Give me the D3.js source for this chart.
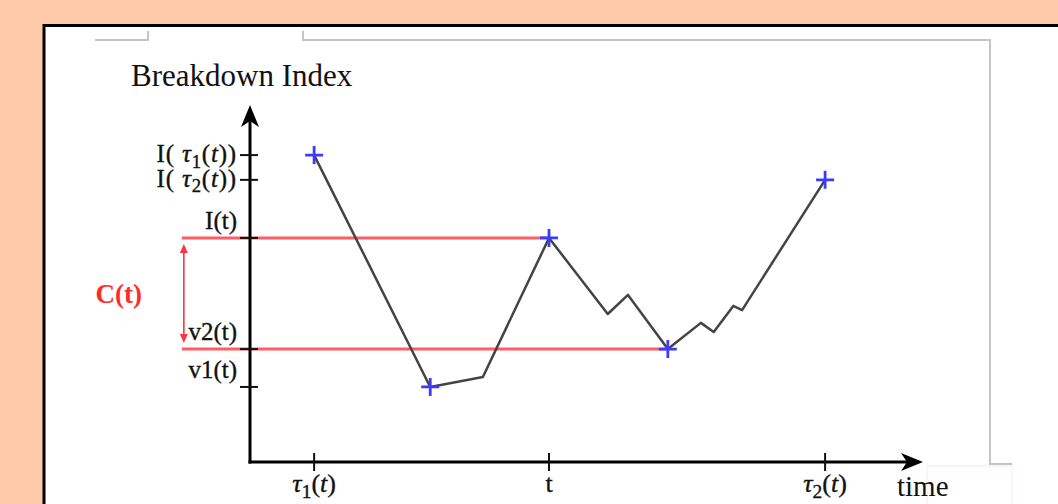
<!DOCTYPE html>
<html><head><meta charset="utf-8">
<script src="https://cdn.jsdelivr.net/npm/d3@7"></script>
<style>html,body{margin:0;padding:0;background:#fdcba8;overflow:hidden}svg{display:block}</style>
</head><body>
<script>
// ---- data ----
const timeValues  = [9.5, 26.7, 34.5, 44.3, 53.0, 56.0, 61.9, 66.8, 68.7, 71.6, 72.9, 85.2];
const indexValues = [86.7, 21.2, 24.0, 63.3, 41.8, 47.2, 31.9, 39.3, 36.7, 44.1, 42.9, 79.7];
const markedPoints = [0, 1, 3, 6, 11];
const yTickValues = [86.7, 79.7, 63.3, 31.9, 21.2];
const yTickLabels = [
  [["I( "],["τ","i"],["1","s"],["("],["t","i"],["))"]],
  [["I( "],["τ","i"],["2","s"],["("],["t","i"],["))"]],
  [["I(t)"]],
  [["v2(t)"]],
  [["v1(t)"]]
];
const xTickValues = [9.5, 44.3, 85.2];
const xTickLabels = [
  [["τ","i"],["1","s"],["("],["t","i"],[")"]],
  [["t"]],
  [["τ","i"],["2","s"],["("],["t","i"],[")"]]
];
const thresholdValues = [63.3, 31.9]; // I(t), v2(t)
const thresholdEnds = [44.3, 61.9];
const yTitle = "Breakdown Index";
const xTitle = "time";
const bandLabel = "C(t)";

// ---- drawing ----
const W = 1058, H = 504;
const svg = d3.select("body").append("svg").attr("width", W).attr("height", H);
const x = d3.scaleLinear().domain([0, 100]).range([250, 925]);
const y = d3.scaleLinear().domain([0, 100]).range([462, 108]);
const serif = "'Liberation Serif','DejaVu Serif',serif";

// page frame
svg.append("rect").attr("x", 44).attr("y", 25.5).attr("width", W).attr("height", H)
  .attr("fill", "#fff").attr("stroke", "#000").attr("stroke-width", 3);

// grey image frame
const grey = svg.append("g").attr("fill", "none").attr("stroke", "#c4c4c4").attr("stroke-width", 2);
grey.append("path").attr("d", "M95,40H148V31");
grey.append("path").attr("d", "M303,31V40H990V464H1012");
svg.append("rect").attr("x", 927).attr("y", 466).attr("width", 85).attr("height", 45)
  .attr("fill", "#fff").attr("stroke", "#fde8e8").attr("stroke-width", 1);

// titles
svg.append("text").attr("x", 131).attr("y", 86).attr("font-family", serif).attr("font-size", 31)
  .attr("fill", "#111").text(yTitle);
svg.append("text").attr("x", 897).attr("y", 496).attr("font-family", serif).attr("font-size", 29)
  .attr("fill", "#111").text(xTitle);

// threshold red lines
svg.append("g").selectAll("line").data(thresholdValues).join("line")
  .attr("x1", x(-10.1)).attr("x2", (d, i) => x(thresholdEnds[i]))
  .attr("y1", d => y(d)).attr("y2", d => y(d))
  .attr("stroke", "#ff5c66").attr("stroke-width", 3);

// C(t) double arrow
const ax = x(-9.8);
const aTop = y(thresholdValues[0]) + 6, aBot = y(thresholdValues[1]) - 6;
svg.append("line").attr("x1", ax).attr("x2", ax).attr("y1", aTop + 4).attr("y2", aBot - 4)
  .attr("stroke", "#ff3344").attr("stroke-width", 1.6);
svg.append("path").attr("d", `M${ax},${aTop}l-4,9h8z M${ax},${aBot}l-4,-9h8z`).attr("fill", "#ff3344");
svg.append("text").attr("x", 142).attr("y", (y(thresholdValues[0]) + y(thresholdValues[1])) / 2)
  .attr("dy", "0.35em").attr("text-anchor", "end").attr("font-family", serif)
  .attr("font-size", 27).attr("font-weight", "bold").attr("fill", "#ff2a2a").text(bandLabel);

// axes
const axisG = svg.append("g").attr("stroke", "#000").attr("fill", "none");
axisG.append("line").attr("x1", x(0)).attr("x2", x(0)).attr("y1", y(0) + 1.5).attr("y2", y(98))
  .attr("stroke-width", 3);
axisG.append("line").attr("x1", x(0) - 1.5).attr("x2", x(99)).attr("y1", y(0)).attr("y2", y(0))
  .attr("stroke-width", 3);
// arrow heads
svg.append("path").attr("d", `M${x(0)},${y(100) - 3}l-9,22l9,-6l9,6z`).attr("fill", "#000");
svg.append("path").attr("d", `M${x(100) - 2},${y(0)}l-22,-9l6,9l-6,9z`).attr("fill", "#000");

function richText(sel, parts) {
  let prevSub = false;
  parts.forEach(p => {
    const ts = sel.append("tspan").text(p[0]);
    if (p[1] === "i") ts.attr("font-style", "italic");
    if (p[1] === "s") { ts.attr("font-size", "0.75em").attr("dy", "0.3em"); prevSub = true; }
    else if (prevSub) { ts.attr("dy", "-0.23em"); prevSub = false; }
  });
}

// y ticks
const yt = svg.append("g").selectAll("g").data(yTickValues).join("g")
  .attr("transform", d => `translate(0,${y(d)})`);
yt.append("line").attr("x1", x(0) - 10).attr("x2", x(0) + 8).attr("stroke", "#111").attr("stroke-width", 2);
yt.append("text").attr("x", x(0) - 13).attr("text-anchor", "end")
  .attr("font-family", serif).attr("font-size", 25).attr("fill", "#111")
  .attr("stroke", "#111").attr("stroke-width", 0.35)
  .attr("letter-spacing", (d, i) => i < 2 ? 0.8 : 0)
  .attr("y", (d, i) => i < 2 ? 7 : -9)
  .each(function (d, i) { richText(d3.select(this), yTickLabels[i]); });

// x ticks
const xt = svg.append("g").selectAll("g").data(xTickValues).join("g")
  .attr("transform", d => `translate(${x(d)},0)`);
xt.append("line").attr("y1", y(0) - 9).attr("y2", y(0) + 9).attr("stroke", "#111").attr("stroke-width", 2);
xt.append("text").attr("y", y(0) + 30).attr("text-anchor", "middle")
  .attr("font-family", serif).attr("font-size", 26).attr("fill", "#111")
  .attr("stroke", "#111").attr("stroke-width", 0.35)
  .each(function (d, i) { richText(d3.select(this), xTickLabels[i]); });

// series line
const pts = timeValues.map((t, i) => [t, indexValues[i]]);
svg.append("path").datum(pts)
  .attr("d", d3.line().x(d => x(d[0])).y(d => y(d[1])))
  .attr("fill", "none").attr("stroke", "#444").attr("stroke-width", 2.5).attr("stroke-linejoin", "round");

// markers
svg.append("g").selectAll("path").data(markedPoints).join("path")
  .attr("d", i => `M${x(timeValues[i]) - 9},${y(indexValues[i])}h18M${x(timeValues[i])},${y(indexValues[i]) - 9}v18`)
  .attr("stroke", "#3b3bff").attr("stroke-width", 2.8);
</script>
</body></html>
